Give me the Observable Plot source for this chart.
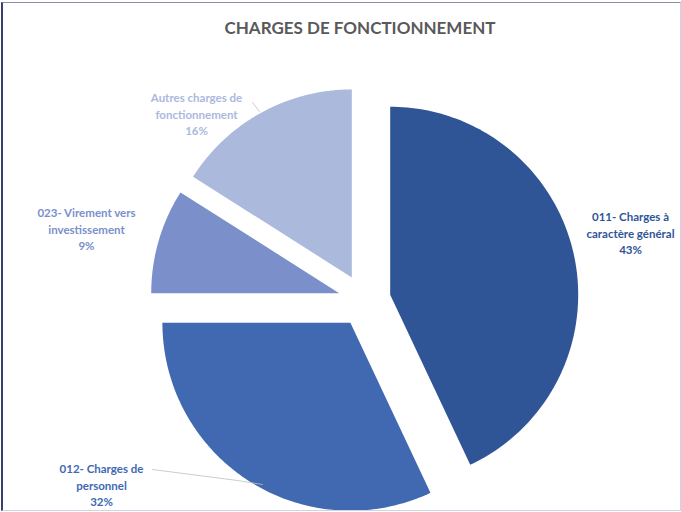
<!DOCTYPE html>
<html>
<head>
<meta charset="utf-8">
<script src="https://cdn.jsdelivr.net/npm/d3@7"></script>
<script src="https://cdn.jsdelivr.net/npm/@observablehq/plot@0.6"></script>
<style>
  html, body { margin: 0; padding: 0; background: #fff; }
  #wrap { position: relative; width: 681px; height: 512px; }
  #frame { position: absolute; left: 1px; top: 2px; width: 677px; height: 507px;
           border-top: 1px solid #8a8fab; border-left: 2px solid #3b3f6b;
           border-right: 1px solid #d0d3e0; border-bottom: 1px solid #d0d3e0; pointer-events: none; }
</style>
</head>
<body>
<div id="wrap"><div id="chart"></div><div id="frame"></div></div>
<script>
// ---- data ----
const title = "CHARGES DE FONCTIONNEMENT";
const labels = ["011- Charges à caractère général", "012- Charges de personnel", "023- Virement vers investissement", "Autres charges de fonctionnement"];
const labelLines = ["011- Charges à\ncaractère général", "012- Charges de\npersonnel", "023- Virement vers\ninvestissement", "Autres charges de\nfonctionnement"];
const values = [43, 32, 9, 16];
const colors = ["#2F5597", "#4169B2", "#7B8FCB", "#ABB9DD"];

// ---- layout ----
const W = 681, H = 512;
const CX = 364, CY = 300, R = 188;   // pie centre and radius in pixels
const EXPLODE = 0.14;                 // slice offset (fraction of radius)
const labelPx = [[630, 232], [101, 484], [86, 228], [196, 113]];
const leaderPx = [null, [[152, 469], [237, 480], [262, 484]], null, [[252, 102], [259, 111]]];
const toData = ([px, py]) => ({x: (px - CX) / R, y: (CY - py) / R});

const total = d3.sum(values);
const arcs = d3.pie().sort(null).value(d => d)(values);

const slicePts = [];
arcs.forEach((a, i) => {
  const mid = (a.startAngle + a.endAngle) / 2;
  const ox = EXPLODE * Math.sin(mid), oy = EXPLODE * Math.cos(mid);
  const n = 120;
  slicePts.push({label: labels[i], x: ox, y: oy});
  for (let k = 0; k <= n; k++) {
    const t = a.startAngle + (a.endAngle - a.startAngle) * k / n;
    slicePts.push({label: labels[i], x: ox + Math.sin(t), y: oy + Math.cos(t)});
  }
  slicePts.push({label: labels[i], x: ox, y: oy});
});

const textData = labels.map((l, i) => ({
  label: l,
  text: labelLines[i] + "\n" + Math.round(values[i] / total * 100) + "%",
  ...toData(labelPx[i])
}));

const leaderData = [];
leaderPx.forEach((pts, i) => {
  if (!pts) return;
  pts.forEach(p => leaderData.push({label: labels[i], ...toData(p)}));
});

const chart = Plot.plot({
  width: W,
  height: H,
  margin: 0,
  x: {domain: [(0 - CX) / R, (W - CX) / R], axis: null},
  y: {domain: [(CY - H) / R, CY / R], axis: null},
  color: {domain: labels, range: colors},
  style: {background: "transparent"},
  marks: [
    Plot.line(slicePts, {x: "x", y: "y", z: "label", fill: "label", stroke: null, curve: "linear"}),
    Plot.line(leaderData, {x: "x", y: "y", z: "label", stroke: "#bfbfbf", strokeWidth: 0.8}),
    Plot.text(textData, {x: "x", y: "y", text: "text", fill: "label", fontSize: 11.5, fontWeight: "bold",
      fontFamily: "Lato", lineHeight: 1.43, textAnchor: "middle"}),
    Plot.text([title], {frameAnchor: "top", dx: 19, dy: 28, lineAnchor: "middle", text: d => d,
      fontSize: 17, fontWeight: "bold", fontFamily: "Lato", fill: "#595959"})
  ]
});
document.getElementById("chart").appendChild(chart);
</script>
</body>
</html>
